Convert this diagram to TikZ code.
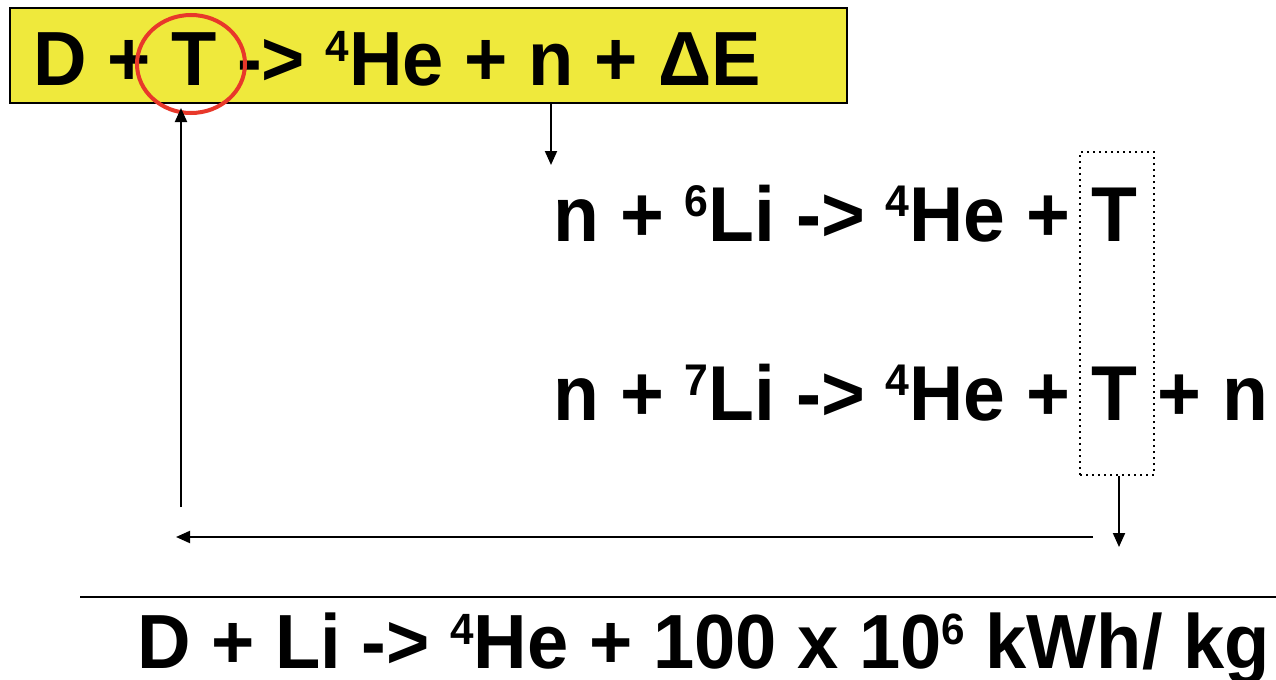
\documentclass[tikz,border=0pt]{standalone}
\usepackage{fontspec}
\setmainfont[FakeStretch=0.965]{Liberation Sans}
\usetikzlibrary{arrows.meta,shapes.geometric}
\definecolor{fusyellow}{RGB}{239,233,60}
\definecolor{circred}{RGB}{232,56,42}
\newcommand{\eqfont}{\fontsize{38.4}{46}\selectfont\bfseries}
\newcommand{\breedfont}{\fontsize{38.9}{46}\selectfont\bfseries}
\newcommand{\iso}[1]{\raisebox{0.31em}{\scalebox{0.57}{#1}}}
\tikzset{
  eqn/.style={font=\eqfont, inner sep=0pt, anchor=base west},
  breed/.style={eqn, font=\breedfont},
  flow/.style={line width=1pt, -{Triangle[length=7pt,width=6pt]}},
}
\begin{document}
\begin{tikzpicture}[x=0.5pt,y=-0.5pt]
\useasboundingbox (0,0) rectangle (1276,680);
\node[draw, line width=1pt, fill=fusyellow, minimum width=418.5pt, minimum height=47.5pt, inner sep=0pt] (box) at (428.5,55.5) {};
\node[eqn] (dt) at (33,85) {D + T -> \iso{4}He + n + ΔE};
\node[draw=circred, line width=2pt, ellipse, minimum width=54pt, minimum height=49pt, inner sep=0pt] (tc) at (191,64) {};
\node[breed] (li6) at (553,241) {n + \iso{6}Li -> \iso{4}He + T};
\node[breed] (li7) at (553,420) {n + \iso{7}Li -> \iso{4}He + T + n};
\node[draw, dotted, line width=1pt, minimum width=37pt, minimum height=161.5pt, inner sep=0pt] (tbox) at (1117,313.5) {};
\coordinate (upfoot) at (181,507);
\coordinate (li6top) at (551,165);
\coordinate (tfoot) at (1119,547);
\coordinate (retr) at (1093,537);
\coordinate (retl) at (176,537);
\draw[flow, shorten >=2pt] (upfoot) -- (upfoot |- box.south);
\draw[flow] (box.south -| li6top) -- (li6top);
\draw[flow] (tbox.south -| tfoot) -- (tfoot);
\draw[flow] (retr) -- (retl);
\draw[line width=1pt] (80,597) -- (1276,597);
\node[eqn] (dli) at (137,668) {D + Li -> \iso{4}He + 100 x 10\iso{6} kWh/ kg};
\end{tikzpicture}
\end{document}
